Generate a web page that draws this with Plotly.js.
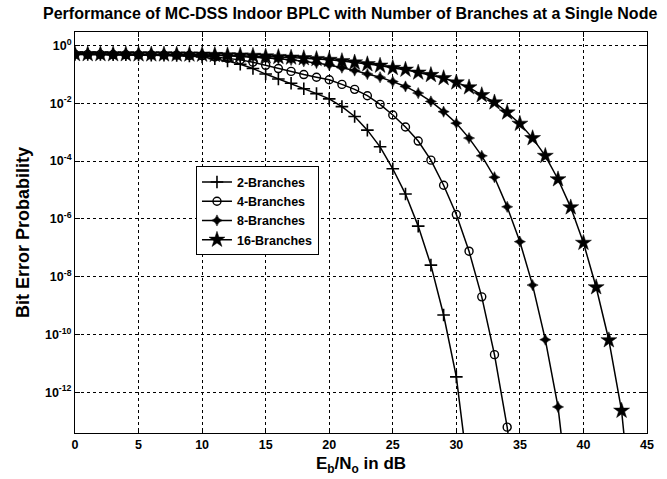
<!DOCTYPE html>
<html>
<head>
<meta charset="utf-8">
<script src="https://cdn.plot.ly/plotly-3.0.1.min.js"></script>
<style>html,body{margin:0;padding:0;background:#fff;}#chart{width:667px;height:479px;}</style>
</head>
<body>
<div id="chart"></div>
<script>
// Eb/No in dB (integer steps)
const ebno2  = [0,1,2,3,4,5,6,7,8,9,10,11,12,13,14,15,16,17,18,19,20,21,22,23,24,25,26,27,28,29,30,31];
const ebno4  = [0,1,2,3,4,5,6,7,8,9,10,11,12,13,14,15,16,17,18,19,20,21,22,23,24,25,26,27,28,29,30,31,32,33,34,35];
const ebno8  = [0,1,2,3,4,5,6,7,8,9,10,11,12,13,14,15,16,17,18,19,20,21,22,23,24,25,26,27,28,29,30,31,32,33,34,35,36,37,38,39];
const ebno16 = [0,1,2,3,4,5,6,7,8,9,10,11,12,13,14,15,16,17,18,19,20,21,22,23,24,25,26,27,28,29,30,31,32,33,34,35,36,37,38,39,40,41,42,43,44];

// Bit error probability
const ber2 = [0.49,0.49,0.485,0.48,0.475,0.47,0.46,0.455,0.445,0.43,
  0.40,0.35,0.29,0.224,0.158,0.102,0.069,0.049,0.0316,0.0214,
  0.0141,7.6e-3,3.47e-3,1.17e-3,3.1e-4,5.4e-5,7.2e-6,5.6e-7,2.5e-8,4.7e-10,
  3.4e-12,1e-15];
const ber4 = [0.495,0.49,0.49,0.485,0.48,0.475,0.47,0.465,0.46,0.45,
  0.437,0.398,0.355,0.316,0.263,0.204,0.158,0.126,0.098,0.079,
  0.065,0.0447,0.0302,0.0182,9.1e-3,3.9e-3,1.51e-3,4.9e-4,1.07e-4,1.45e-5,
  1.41e-6,7.6e-8,2.0e-9,2.0e-11,6.2e-14,3e-17];
const ber8 = [0.50,0.50,0.495,0.49,0.49,0.485,0.48,0.48,0.475,0.47,
  0.468,0.457,0.437,0.417,0.398,0.372,0.347,0.316,0.282,0.245,
  0.209,0.170,0.135,0.102,0.079,0.056,0.038,0.0224,0.0115,5.1e-3,
  2.04e-3,6.2e-4,1.51e-4,2.75e-5,2.6e-6,1.62e-7,5.1e-9,6.6e-11,3.1e-13,5e-17];
const ber16 = [0.50,0.50,0.50,0.495,0.495,0.49,0.49,0.49,0.485,0.485,
  0.479,0.468,0.457,0.447,0.437,0.417,0.398,0.380,0.363,0.339,
  0.316,0.288,0.257,0.224,0.200,0.166,0.145,0.115,0.095,0.074,
  0.0525,0.0355,0.0191,0.0107,4.8e-3,1.95e-3,6.2e-4,1.51e-4,2.34e-5,2.5e-6,
  1.48e-7,4.3e-9,6.3e-11,2.3e-13,1e-17];

const seriesNames = ['2-Branches','4-Branches','8-Branches','16-Branches'];
const xTickVals = [0,5,10,15,20,25,30,35,40,45];
const yTickVals = [1,1e-2,1e-4,1e-6,1e-8,1e-10,1e-12];
const yTickText = ['10<sup>0</sup>','10<sup>-2</sup>','10<sup>-4</sup>','10<sup>-6</sup>','10<sup>-8</sup>','10<sup>-10</sup>','10<sup>-12</sup>'];

const FONT = 'Liberation Sans, Arial, Helvetica, sans-serif';
const lineStyle = {color:'#000', width:1.5};

const traces = [
  {x: ebno2, y: ber2, name: seriesNames[0], mode:'lines+markers', line: lineStyle,
   marker:{symbol:'cross-thin-open', size:9, color:'#000', line:{color:'#000', width:1.6}}},
  {x: ebno4, y: ber4, name: seriesNames[1], mode:'lines+markers', line: lineStyle,
   marker:{symbol:'circle-open', size:8, color:'#000', line:{color:'#000', width:1.4}}},
  {x: ebno8, y: ber8, name: seriesNames[2], mode:'lines+markers', line: lineStyle,
   marker:{symbol:'star-diamond', size:8, color:'#000', line:{color:'#000', width:0.5}}},
  {x: ebno16, y: ber16, name: seriesNames[3], mode:'lines+markers', line: lineStyle,
   marker:{symbol:'star', size:12, color:'#000', line:{color:'#000', width:0.5}}}
];

const axisCommon = {
  showline:true, linecolor:'#000', linewidth:1, mirror:'ticks',
  ticks:'inside', ticklen:5, tickcolor:'#000', tickwidth:1,
  showgrid:true, gridcolor:'#000', gridwidth:1, griddash:'3px,3px',
  zeroline:false,
  tickfont:{family:FONT, size:12.5, color:'#000', weight:'bold'}
};

const layout = {
  width:667, height:479,
  paper_bgcolor:'#fff', plot_bgcolor:'#fff',
  margin:{l:75, r:20, t:32, b:46},
  showlegend:true,
  font:{family:FONT, color:'#000'},
  title:{text:'Performance of MC-DSS Indoor BPLC with Number of Branches at a Single Node',
    font:{family:FONT, size:16, color:'#000', weight:'bold'},
    x:0.525, xanchor:'center', xref:'container', y:0.971, yanchor:'middle', yref:'container'},
  xaxis: Object.assign({}, axisCommon, {
    range:[0,45], tickvals:xTickVals, ticktext:xTickVals.map(String),
    title:{text:'E<sub>b</sub>/N<sub>o</sub> in dB', font:{family:FONT, size:17, color:'#000', weight:'bold'}, standoff:6}
  }),
  yaxis: Object.assign({}, axisCommon, {
    type:'log', range:[-13.41, 0.464], tickvals:yTickVals, ticktext:yTickText,
    title:{text:'Bit Error Probability', font:{family:FONT, size:18, color:'#000', weight:'bold'}, standoff:10}
  }),
  legend:{x:0.2115, y:0.665, xanchor:'left', yanchor:'top',
    bgcolor:'#fff', bordercolor:'#000', borderwidth:1,
    font:{family:FONT, size:12.5, color:'#000', weight:'bold'},
    tracegroupgap:0, itemwidth:30}
};

Plotly.newPlot('chart', traces, layout, {displayModeBar:false, staticPlot:true});
</script>
</body>
</html>
